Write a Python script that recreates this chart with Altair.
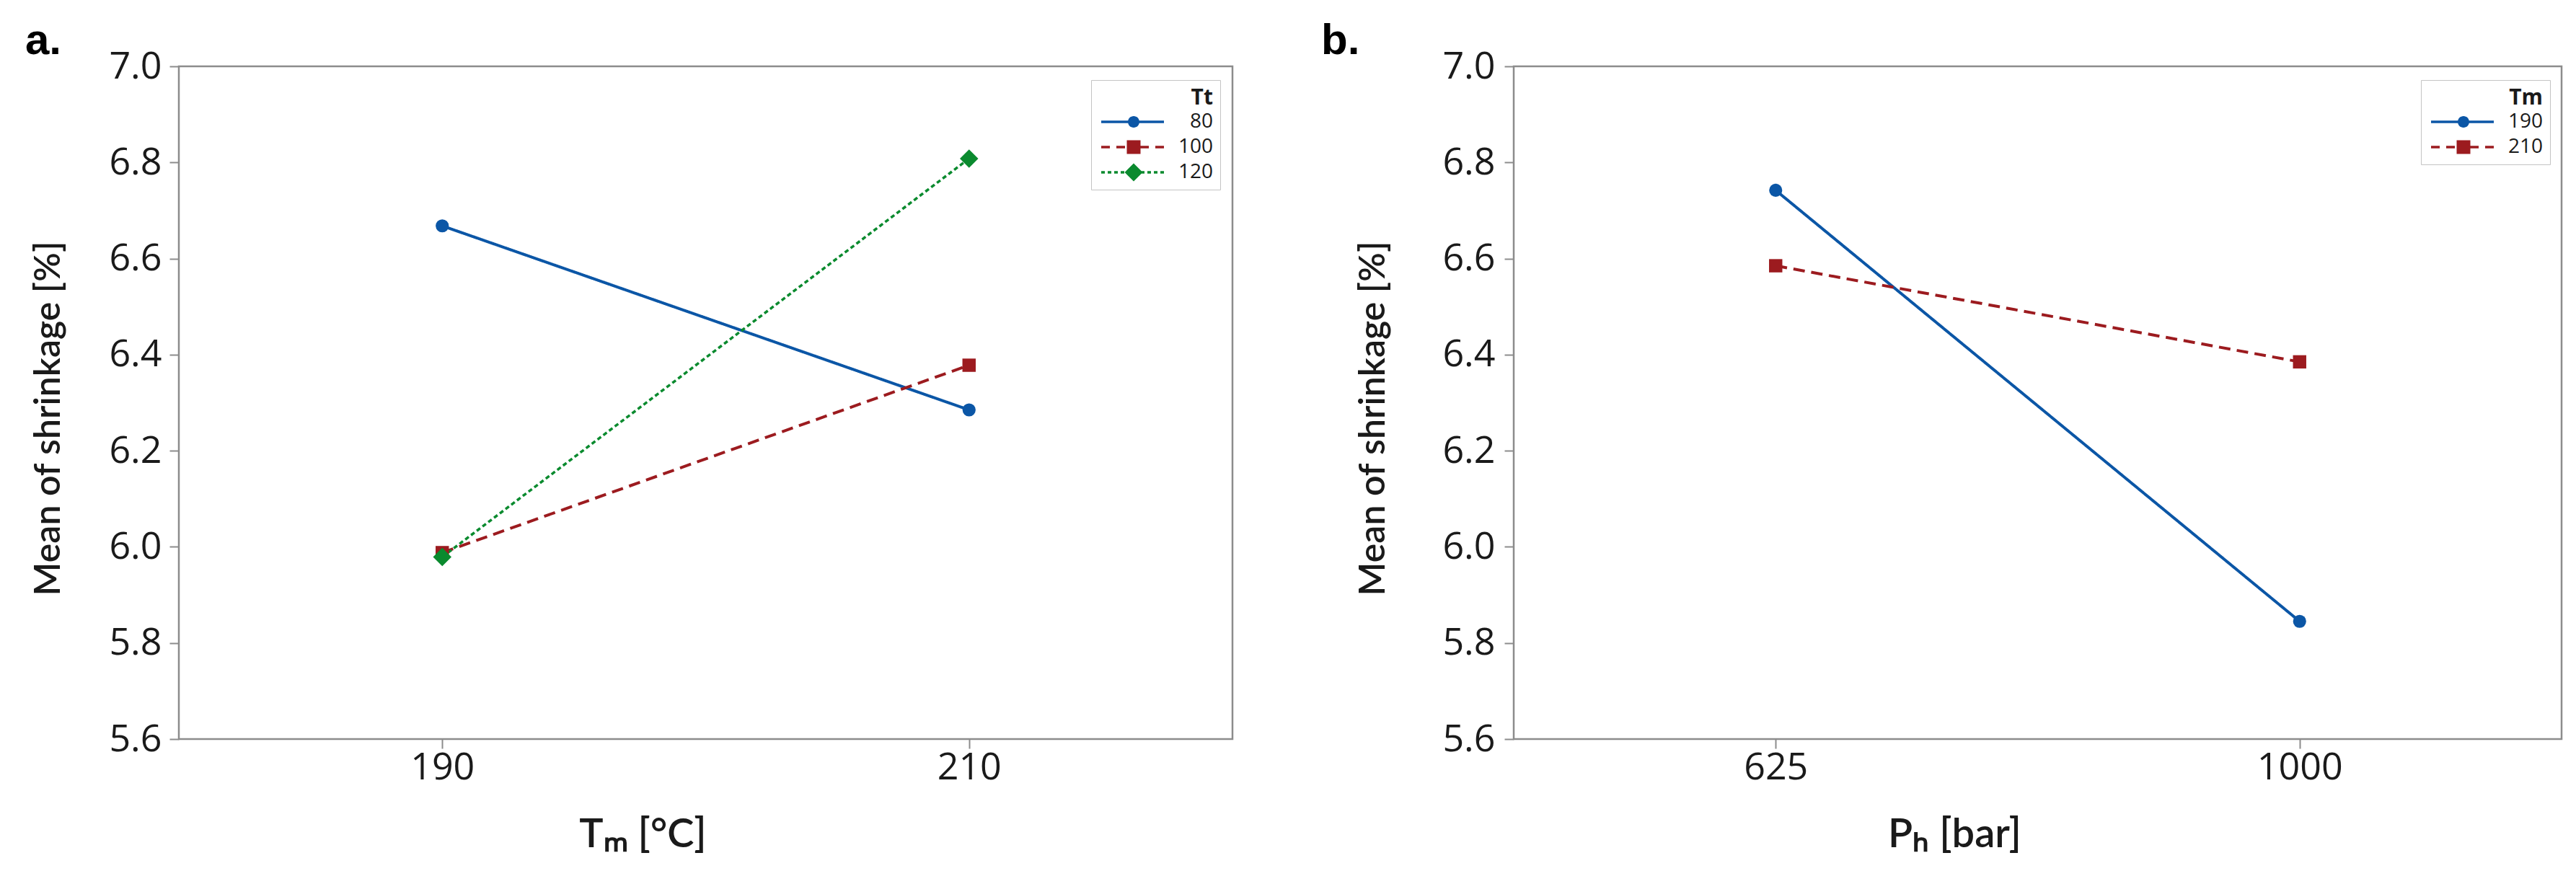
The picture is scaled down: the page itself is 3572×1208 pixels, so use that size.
import altair as alt
import pandas as pd

# ---------------- data ----------------
tm_levels = [190, 210]
tt_series = ["80", "100", "120"]
shrink_tt80 = [6.668, 6.285]
shrink_tt100 = [5.988, 6.378]
shrink_tt120 = [5.979, 6.808]

ph_levels = [625, 1000]
tm_series = ["190", "210"]
shrink_tm190 = [6.742, 5.845]
shrink_tm210 = [6.585, 6.385]

y_ticks = [5.6, 5.8, 6.0, 6.2, 6.4, 6.6, 6.8, 7.0]
panel_labels = ["a.", "b."]

df_a = pd.DataFrame({
    "Tm": tm_levels * 3,
    "Tt": [s for s in tt_series for _ in tm_levels],
    "Shrinkage": shrink_tt80 + shrink_tt100 + shrink_tt120,
})
df_b = pd.DataFrame({
    "Ph": ph_levels * 2,
    "Tm": [s for s in tm_series for _ in ph_levels],
    "Shrinkage": shrink_tm190 + shrink_tm210,
})

# ---------------- styles ----------------
FONT = "Open Sans"
TFONT = "Lato"
TXT = "#1a1a1a"
GRAY = "#8c8c8c"
BLUE = "#0b56a6"
RED = "#9c1b1f"
GREEN = "#0a8a2e"

STY = {
    "solid": dict(color=BLUE, dash=[1, 0], width=4.0, shape="circle", size=330, mk="circle", mh=8.0, d=None, g=None),
    "dash": dict(color=RED, dash=[16, 9], width=4.0, shape="square", size=340, mk="square", mh=9.5, d=12, g=9),
    "dot": dict(color=GREEN, dash=[6, 4], width=3.5, shape="diamond", size=650, mk="diamond", mh=12.5, d=5, g=4),
}

U = 10.0  # px per symbol unit (sqrt(400)/2)


def _rect(x0, x1, h):
    return f"M{x0/U:.3f},{-h/U:.3f}H{x1/U:.3f}V{h/U:.3f}H{x0/U:.3f}Z"


def legend_path(st):
    L, R, C, h = -10.0, 77.0, 35.0, 1.7
    half = st["mh"]
    parts = []
    if st["d"] is None:
        parts.append(_rect(L, C, h))
        parts.append(_rect(C, R, h))
    else:
        x = L
        while x < C - half:
            parts.append(_rect(x, min(x + st["d"], C), h))
            x += st["d"] + st["g"]
        x = R
        while x > C + half:
            parts.append(_rect(max(x - st["d"], C), x, h))
            x -= st["d"] + st["g"]
    c = C / U
    m = half / U
    if st["mk"] == "circle":
        parts.append(f"M{c-m:.3f},0A{m:.3f},{m:.3f} 0 1 1 {c+m:.3f},0A{m:.3f},{m:.3f} 0 1 1 {c-m:.3f},0Z")
    elif st["mk"] == "square":
        parts.append(f"M{c-m:.3f},{-m:.3f}H{c+m:.3f}V{m:.3f}H{c-m:.3f}Z")
    else:
        parts.append(f"M{c:.3f},{-m:.3f}L{c+m:.3f},0L{c:.3f},{m:.3f}L{c-m:.3f},0Z")
    return "".join(parts)


def panel(df, xfield, xdomain, xvalues, xtitle, xtitle_x, sfield, series, kinds,
          label, label_dx, label_dy, width, height,
          y_title_pad, y_label_pad, y_title_y, x_title_pad, leg_x, leg_y):
    xenc = alt.X(
        f"{xfield}:Q",
        scale=alt.Scale(domain=xdomain, nice=False, zero=False),
        axis=alt.Axis(
            values=xvalues, format="d", title=xtitle, grid=False, domain=False,
            tickSize=13, tickWidth=2, tickColor=GRAY, labelPadding=1,
            labelFont=FONT, labelFontSize=52, labelColor=TXT,
            titleFont=TFONT, titleFontSize=56, titleFontWeight=600, titleColor=TXT,
            titlePadding=x_title_pad, titleX=xtitle_x,
        ),
    )
    yenc = alt.Y(
        "Shrinkage:Q",
        scale=alt.Scale(domain=[5.6, 7.0], nice=False, zero=False),
        axis=alt.Axis(
            values=y_ticks, format=".1f", title="Mean of shrinkage [%]", grid=False, domain=False,
            tickSize=13, tickWidth=2, tickColor=GRAY, labelPadding=y_label_pad,
            labelFont=FONT, labelFontSize=52, labelColor=TXT,
            titleFont=TFONT, titleFontSize=50, titleFontWeight=600, titleColor=TXT,
            titlePadding=y_title_pad, titleY=y_title_y,
        ),
    )
    base = alt.Chart(df).encode(x=xenc, y=yenc)
    layers = []
    for s, k in zip(series, kinds):
        st = STY[k]
        sub = base.transform_filter(alt.datum[sfield] == s)
        layers.append(sub.mark_line(color=st["color"], strokeDash=st["dash"], strokeWidth=st["width"]))
    for s, k in zip(series, kinds):
        st = STY[k]
        sub = base.transform_filter(alt.datum[sfield] == s)
        layers.append(sub.mark_point(shape=st["shape"], size=st["size"], filled=True, opacity=1,
                                     color=st["color"], strokeWidth=0))
    leg = dict(
        title=sfield, orient="none", legendX=leg_x, legendY=leg_y, direction="vertical",
        strokeColor="#c4c4c4", fillColor="white", padding=10,
        titleFont=FONT, titleFontSize=30, titleFontWeight="bold", titleColor=TXT,
        titleAnchor="end", titlePadding=4,
        labelFont=FONT, labelFontSize=28, labelColor=TXT, labelAlign="right", labelOffset=131,
        symbolSize=400, symbolStrokeWidth=0, symbolOpacity=1, rowPadding=7,
    )
    legend_layer = base.mark_point(filled=True, opacity=0, size=400).encode(
        color=alt.Color(f"{sfield}:N", scale=alt.Scale(domain=series, range=[STY[k]["color"] for k in kinds]),
                        legend=alt.Legend(**leg)),
        shape=alt.Shape(f"{sfield}:N", scale=alt.Scale(domain=series, range=[legend_path(STY[k]) for k in kinds]),
                        legend=alt.Legend(**leg)),
    )
    layers.append(legend_layer)
    label_layer = alt.Chart(pd.DataFrame({"panel": [label]})).mark_text(
        font="Liberation Sans", fontSize=60, fontWeight="bold", align="left",
        baseline="alphabetic", color="#000000",
    ).encode(text="panel:N", x=alt.value(label_dx), y=alt.value(label_dy))
    layers.append(label_layer)
    return alt.layer(*layers).properties(width=width, height=height)


panel_a = panel(df_a, "Tm", [180, 220], tm_levels, "Tₘ [°C]", 643, "Tt", tt_series,
                ["solid", "dash", "dot"], panel_labels[0], -213, -17, 1461, 933,
                58, 11, 488, 40, 1265, 19)
panel_b = panel(df_b, "Ph", [437.5, 1187.5], ph_levels, "Pₕ [bar]", 611, "Tm", tm_series,
                ["solid", "dash"], panel_labels[1], -267, -17, 1453, 933,
                70, 13, 488, 40, 1258, 19)

chart = alt.hconcat(panel_a, panel_b, spacing=119).resolve_scale(
    color="independent", shape="independent"
).properties(
    padding={"left": 25, "top": 17, "right": 5, "bottom": 5},
    background="white",
).configure(font=FONT).configure_view(stroke=GRAY, strokeWidth=2.5)

chart.save("out.html", embed_options={"renderer": "svg", "actions": False})
